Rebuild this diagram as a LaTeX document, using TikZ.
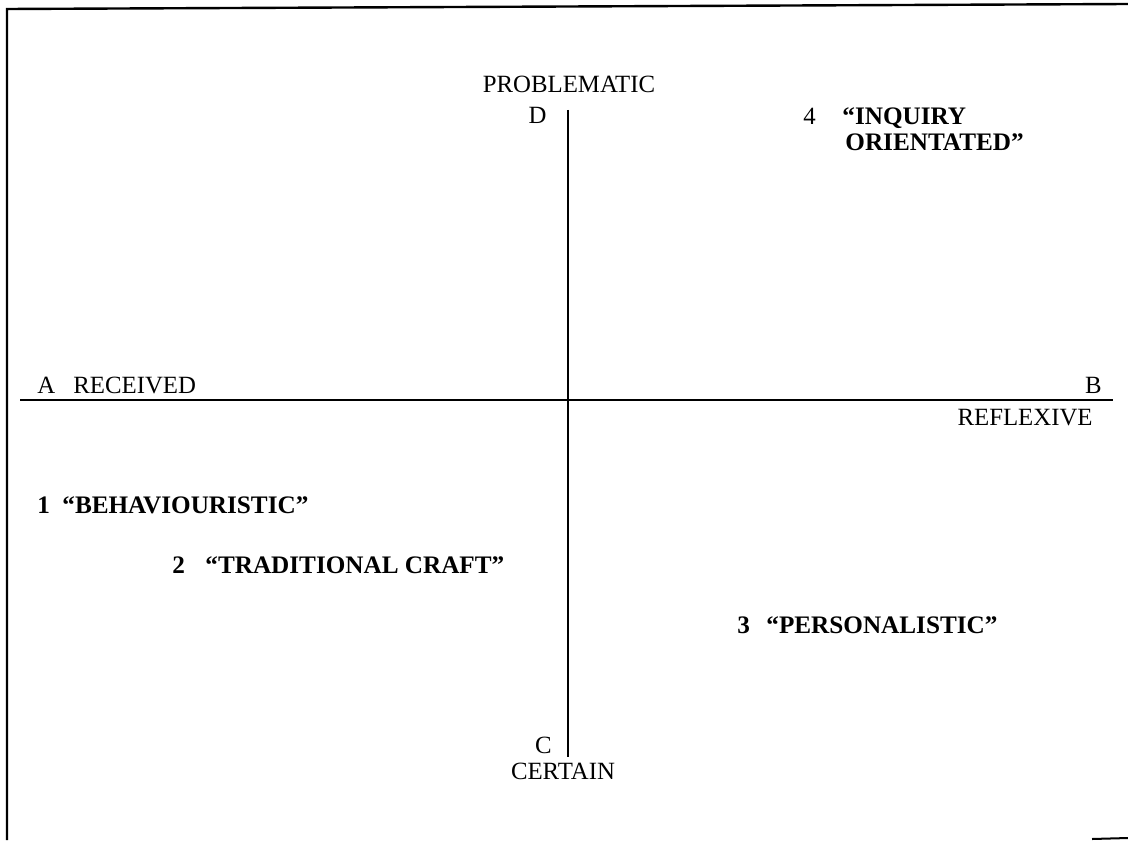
\documentclass[tikz,border=0pt]{standalone}
\usepackage{fontspec}
\setmainfont{Liberation Serif}
\begin{document}
\begin{tikzpicture}[x=0.5pt,y=-0.5pt,
  lab/.style={inner sep=0pt,font=\fontsize{12.4pt}{14pt}\selectfont},
  blab/.style={inner sep=0pt,font=\fontsize{12.6pt}{14pt}\selectfont\bfseries},
  axis/.style={line width=1pt,black},
  frame/.style={line width=1.2pt,black}]
\useasboundingbox (0,0) rectangle (1128,840);
% frame (left and top edges, bottom fragment)
\coordinate (FB) at (7,840);
\coordinate (FTL) at (7,9);
\coordinate (FTR) at (1128,4);
\draw[frame] (FB) -- (FTL) -- (FTR);
\coordinate (BR1) at (1092,839);
\coordinate (BR2) at (1128,838);
\draw[line width=1pt] (BR1) -- (BR2);
% axes
\coordinate (W) at (20,400);
\coordinate (E) at (1113,400);
\coordinate (N) at (568,110);
\coordinate (S) at (568,757);
\draw[axis] (W) -- (E);
\draw[axis] (N) -- (S);
% axis labels
\node[lab,anchor=base] (prob) at (569,92) {PROBLEMATIC};
\node[lab,anchor=base east] (d) at (547,123) {D};
\node[lab,anchor=base west] (a) at (37,393) {A};
\node[lab,anchor=base west] (rec) at (73,393) {RECEIVED};
\node[lab,anchor=base east] (b) at (1102,393) {B};
\node[lab,anchor=base east] (refl) at (1093,425) {REFLEXIVE};
\node[lab,anchor=base east] (c) at (552,753) {C};
\node[lab,anchor=base] (cert) at (563,779) {CERTAIN};
% quadrant labels
\node[lab,anchor=base west] (n4) at (803,125) {4};
\node[blab,anchor=base west] (inq) at (842,125) {“INQUIRY};
\node[blab,anchor=base west] (ori) at (845,150) {ORIENTATED”};
\node[blab,anchor=base west] (n1) at (37,513) {1};
\node[blab,anchor=base west] (beh) at (62,513) {“BEHAVIOURISTIC”};
\node[blab,anchor=base west] (n2) at (172,573) {2};
\node[blab,anchor=base west] (trad) at (205,573) {“TRADITIONAL CRAFT”};
\node[blab,anchor=base west] (n3) at (737,633) {3};
\node[blab,anchor=base west] (pers) at (766,633) {“PERSONALISTIC”};
\end{tikzpicture}
\end{document}
